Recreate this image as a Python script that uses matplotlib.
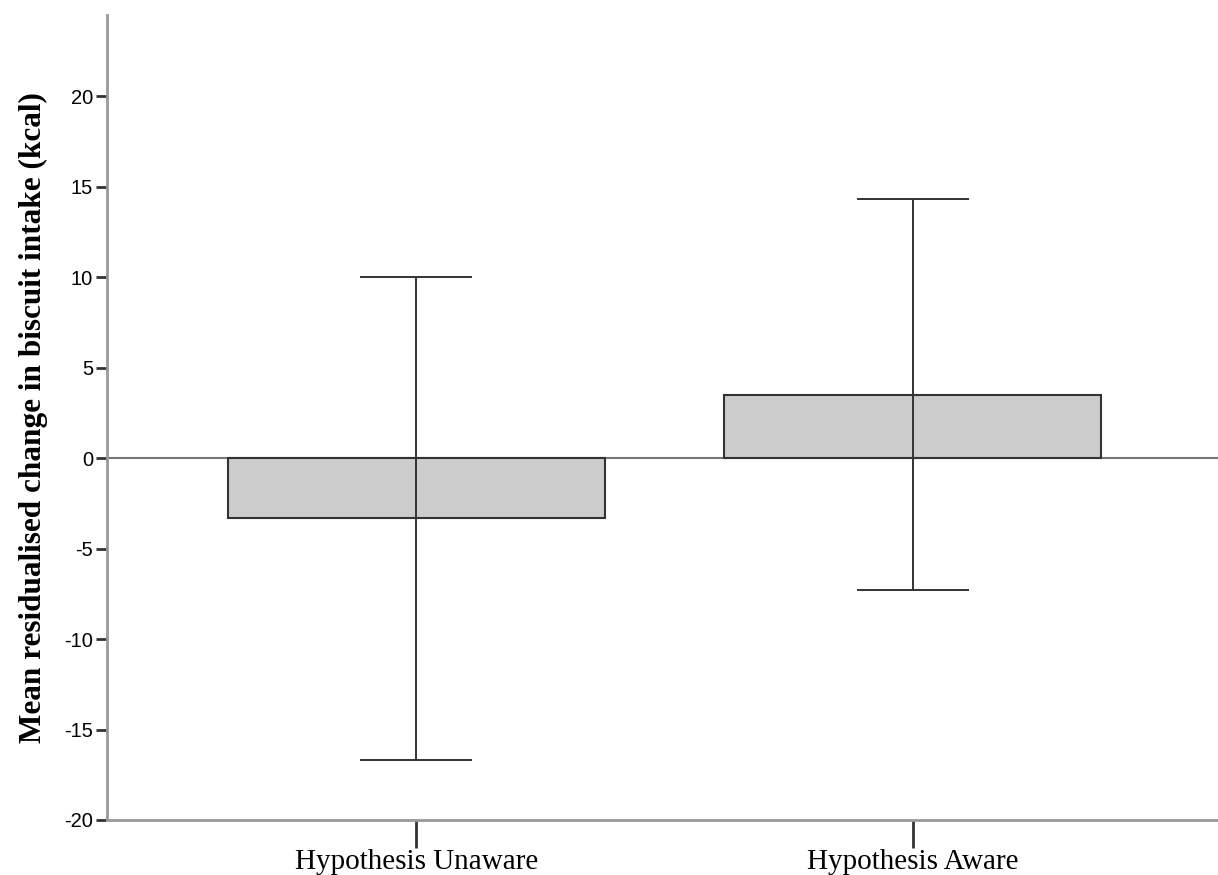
import matplotlib
matplotlib.use("Agg")
from matplotlib import pyplot as plt

groups = ["Hypothesis Unaware", "Hypothesis Aware"]
means = [-3.3, 3.5]
ci_low = [-16.7, -7.3]
ci_high = [10.0, 14.3]
yticks = [-20, -15, -10, -5, 0, 5, 10, 15, 20]

fig = plt.figure(figsize=(12.18, 8.75), dpi=100)
ax = fig.add_axes([0.0879, 0.0629, 0.9121, 0.92])

x = list(range(len(groups)))
ax.bar(x, means, width=0.76, color="#cccccc", edgecolor="#333333", linewidth=1.5, zorder=2)
ax.axhline(0, color="#777777", linewidth=1.5, zorder=1)

err_lo = [m - l for m, l in zip(means, ci_low)]
err_hi = [h - m for m, h in zip(means, ci_high)]
ax.errorbar(x, means, yerr=[err_lo, err_hi], fmt="none", ecolor="#333333",
            elinewidth=1.4, capsize=40, capthick=1.4, zorder=3)

ax.set_xlim(-0.623, 1.615)
ax.set_ylim(-20, 24.5)
ax.set_yticks(yticks)
ax.set_yticklabels([str(v) for v in yticks], fontfamily="Liberation Sans", fontsize=14.5)
ax.set_xticks(x)
ax.set_xticklabels(groups, fontfamily="Liberation Serif", fontsize=21)
ax.tick_params(axis="y", direction="out", length=8, width=2, color="#333333", pad=2)
ax.tick_params(axis="x", direction="out", length=20, width=2, color="#333333", pad=1)

for s in ["top", "right"]:
    ax.spines[s].set_visible(False)
for s in ["left", "bottom"]:
    ax.spines[s].set_color("#999999")
    ax.spines[s].set_linewidth(2)

ax.set_ylabel("Mean residualised change in biscuit intake (kcal)",
              fontfamily="Liberation Serif", fontweight="bold", fontsize=22.5, labelpad=12)

fig.savefig("out.png", dpi=100)
